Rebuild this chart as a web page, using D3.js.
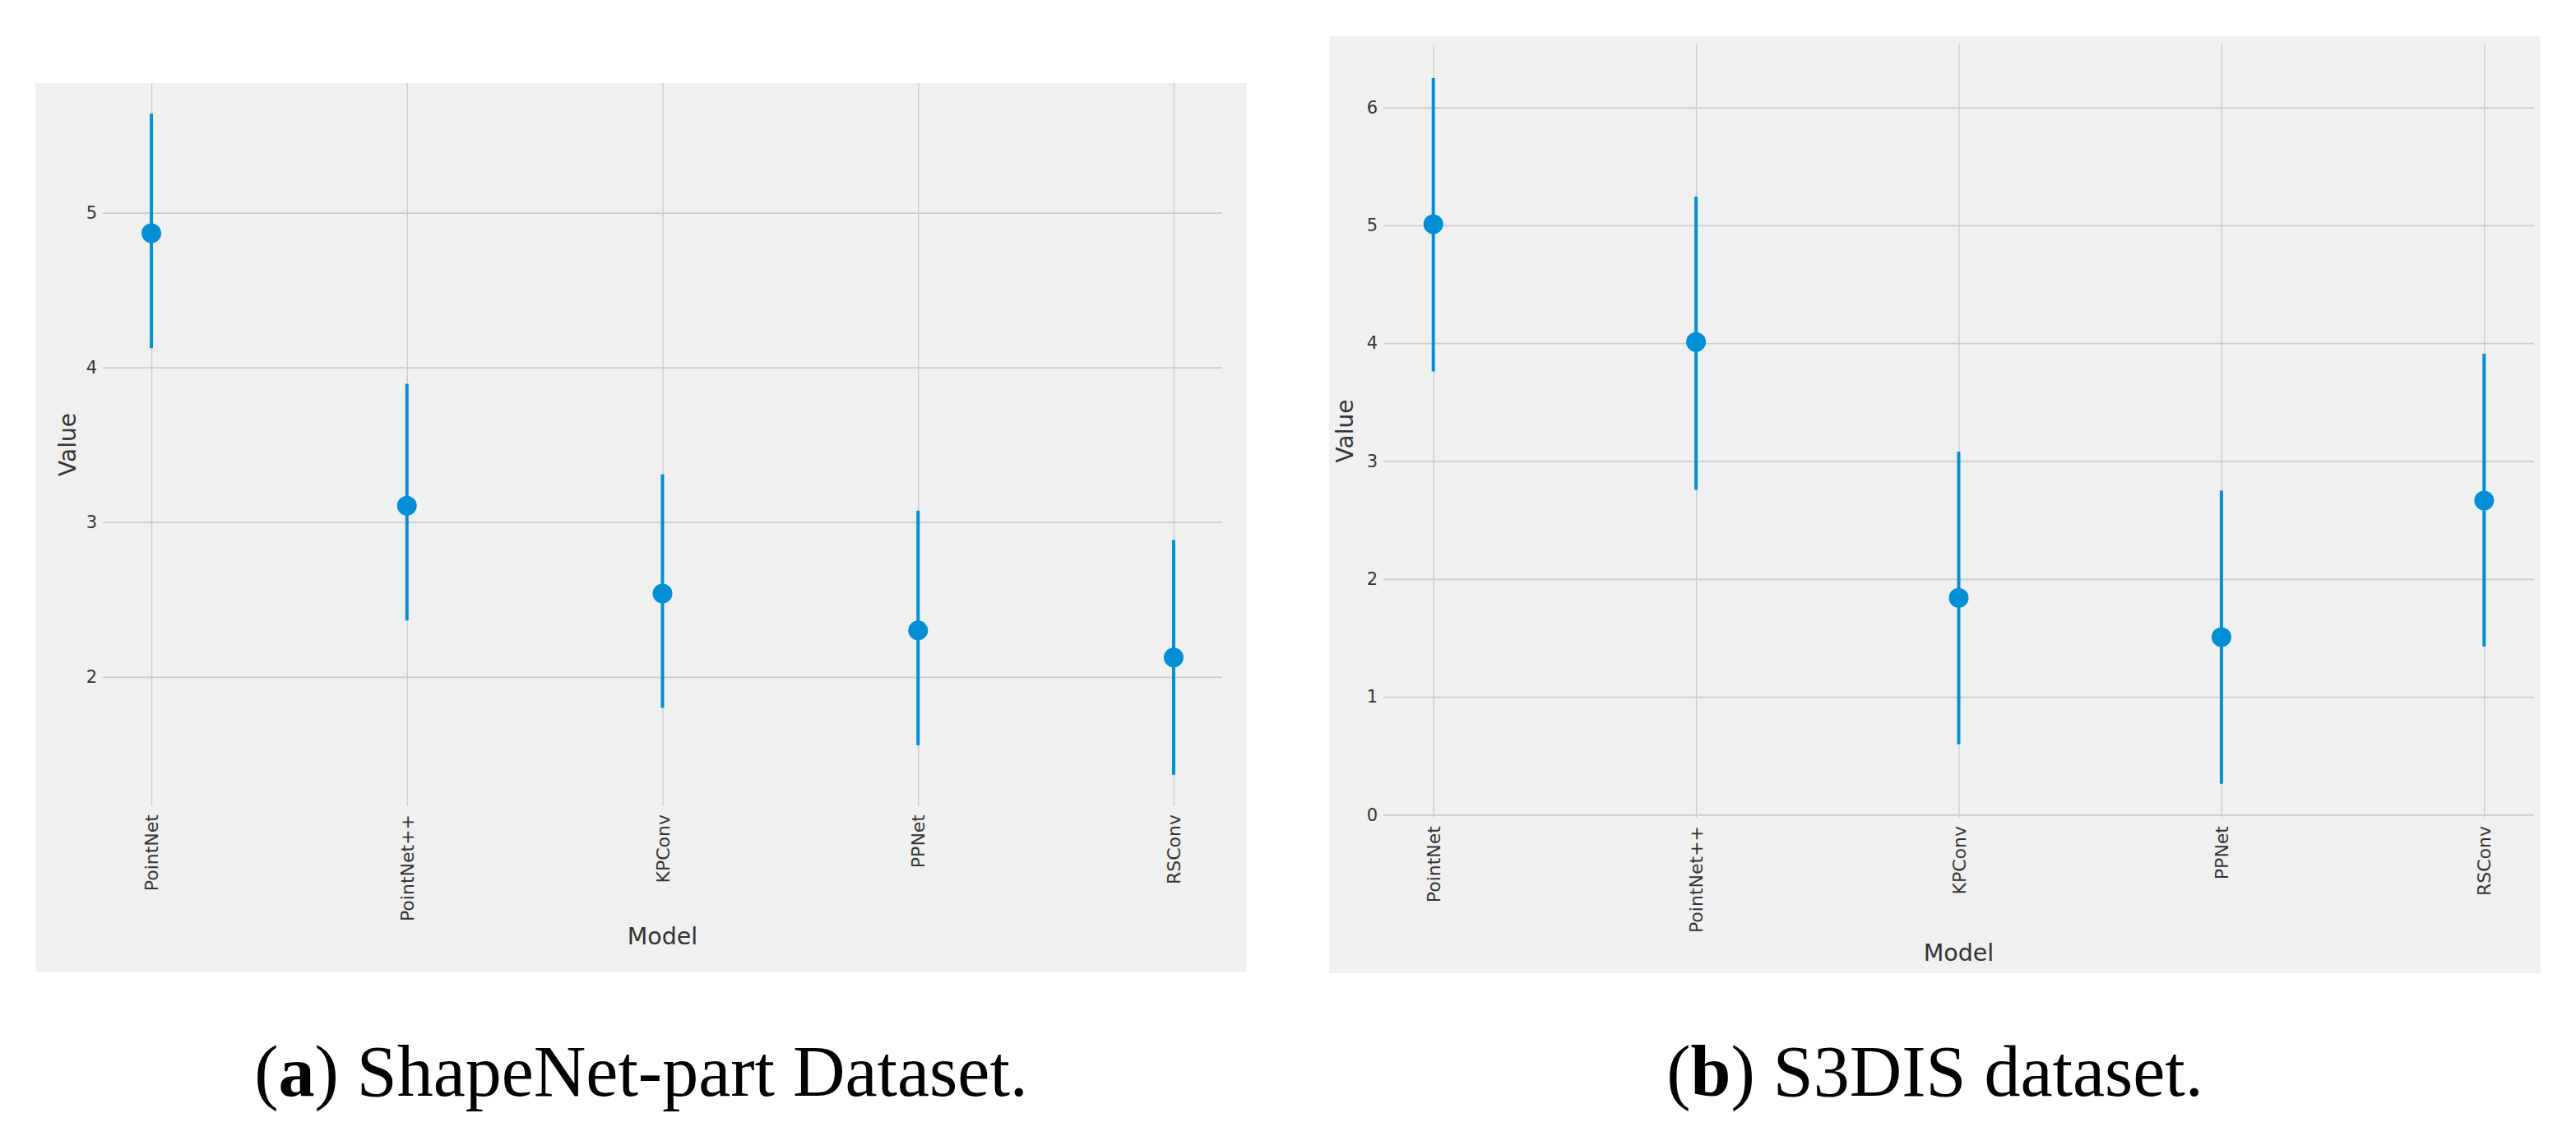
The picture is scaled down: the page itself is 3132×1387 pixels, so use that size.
<!DOCTYPE html>
<html>
<head>
<meta charset="utf-8">
<script src="https://cdn.jsdelivr.net/npm/d3@7"></script>
<style>
  html, body { margin: 0; padding: 0; background: #ffffff; }
  svg { display: block; }
</style>
</head>
<body>
<svg id="chart" width="3132" height="1387"></svg>
<script>
// ---- Data ----
const models = ["PointNet", "PointNet++", "KPConv", "PPNet", "RSConv"];

const shapenetMean  = [4.867, 3.106, 2.539, 2.300, 2.125];
const shapenetLow   = [4.125, 2.364, 1.800, 1.557, 1.368];
const shapenetHigh  = [5.640, 3.894, 3.310, 3.074, 2.886];
const shapenetTicks = [2, 3, 4, 5];

const s3disMean  = [5.010, 4.010, 1.840, 1.506, 2.665];
const s3disLow   = [3.760, 2.756, 0.597, 0.263, 1.427];
const s3disHigh  = [6.248, 5.243, 3.080, 2.750, 3.910];
const s3disTicks = [0, 1, 2, 3, 4, 5, 6];

const xTitle = "Model";
const yTitle = "Value";
const captionA = { label: "a", text: " ShapeNet-part Dataset." };
const captionB = { label: "b", text: " S3DIS dataset." };

// ---- Styling / layout ----
const BLUE = "#008fd5", GRID = "#cbcbcb", BG = "#f0f0f0", TXT = "#333333";
const svg = d3.select("#chart");

const panels = [
  { bg: [43, 101, 1516, 1182], plot: [125, 101, 1486, 980], yDomain: [1.164, 5.838],
    mean: shapenetMean, low: shapenetLow, high: shapenetHigh, ticks: shapenetTicks,
    xTitleY: 1148, yTitleX: 82, caption: captionA },
  { bg: [1616, 44, 3089, 1183], plot: [1682, 54, 3081, 994], yDomain: [-0.025, 6.534],
    mean: s3disMean, low: s3disLow, high: s3disHigh, ticks: s3disTicks,
    xTitleY: 1168, yTitleX: 1635, caption: captionB }
];

panels.forEach((p, idx) => {
  const [bx0, by0, bx1, by1] = p.bg;
  const [px0, py0, px1, py1] = p.plot;
  const g = svg.append("g");

  g.append("rect").attr("x", bx0).attr("y", by0)
    .attr("width", bx1 - bx0).attr("height", by1 - by0).attr("fill", BG);

  const x = d3.scalePoint().domain(models).range([px0, px1]).padding(0.19);
  const y = d3.scaleLinear().domain(p.yDomain).range([py1, py0]);

  const clipId = "clip" + idx;
  g.append("clipPath").attr("id", clipId).append("rect")
    .attr("x", px0).attr("y", py0).attr("width", px1 - px0).attr("height", py1 - py0);

  // Y axis (grid + labels)
  const yAxis = d3.axisLeft(y).tickValues(p.ticks).tickSize(-(px1 - px0)).tickPadding(7)
    .tickFormat(d3.format("d"));
  const ya = g.append("g").attr("transform", `translate(${px0},0)`).call(yAxis);
  ya.select(".domain").remove();
  ya.selectAll(".tick line").attr("stroke", GRID).attr("stroke-width", 1.8);
  ya.selectAll(".tick text").attr("fill", TXT)
    .style("font-family", "DejaVu Sans").style("font-size", "21px");

  // X axis (grid + rotated labels)
  const xAxis = d3.axisBottom(x).tickSize(-(py1 - py0)).tickPadding(0);
  const xa = g.append("g").attr("transform", `translate(0,${py1})`).call(xAxis);
  xa.select(".domain").remove();
  xa.selectAll(".tick line").attr("stroke", GRID).attr("stroke-width", 1.3);
  xa.selectAll(".tick text")
    .attr("fill", TXT)
    .style("font-family", "DejaVu Sans").style("font-size", "22px")
    .attr("text-anchor", "end")
    .attr("dy", null)
    .attr("dominant-baseline", "central")
    .attr("transform", "translate(0,10) rotate(-90)")
    .attr("x", 0).attr("y", 0);

  // Error bars and points
  const marks = g.append("g").attr("clip-path", `url(#${clipId})`);
  marks.selectAll("line.err").data(models).join("line").attr("class", "err")
    .attr("x1", d => x(d)).attr("x2", d => x(d))
    .attr("y1", (d, i) => y(p.low[i])).attr("y2", (d, i) => y(p.high[i]))
    .attr("stroke", BLUE).attr("stroke-width", 4);
  marks.selectAll("circle.pt").data(models).join("circle").attr("class", "pt")
    .attr("cx", d => x(d)).attr("cy", (d, i) => y(p.mean[i]))
    .attr("r", 12).attr("fill", BLUE);

  // Axis titles
  g.append("text").attr("x", (px0 + px1) / 2).attr("y", p.xTitleY)
    .attr("text-anchor", "middle").attr("fill", TXT)
    .style("font-family", "DejaVu Sans").style("font-size", "28.5px").text(xTitle);
  g.append("text")
    .attr("transform", `translate(${p.yTitleX},${(py0 + py1) / 2}) rotate(-90)`)
    .attr("text-anchor", "middle").attr("dominant-baseline", "central").attr("fill", TXT)
    .style("font-family", "DejaVu Sans").style("font-size", "28px").text(yTitle);

  // Caption
  const cap = svg.append("text").attr("x", (bx0 + bx1) / 2).attr("y", 1332)
    .attr("text-anchor", "middle").attr("fill", "#000")
    .style("font-family", "Liberation Serif").style("font-size", "88px");
  cap.append("tspan").text("(");
  cap.append("tspan").attr("font-weight", "bold").text(p.caption.label);
  cap.append("tspan").text(")" + p.caption.text);
});
</script>
</body>
</html>
